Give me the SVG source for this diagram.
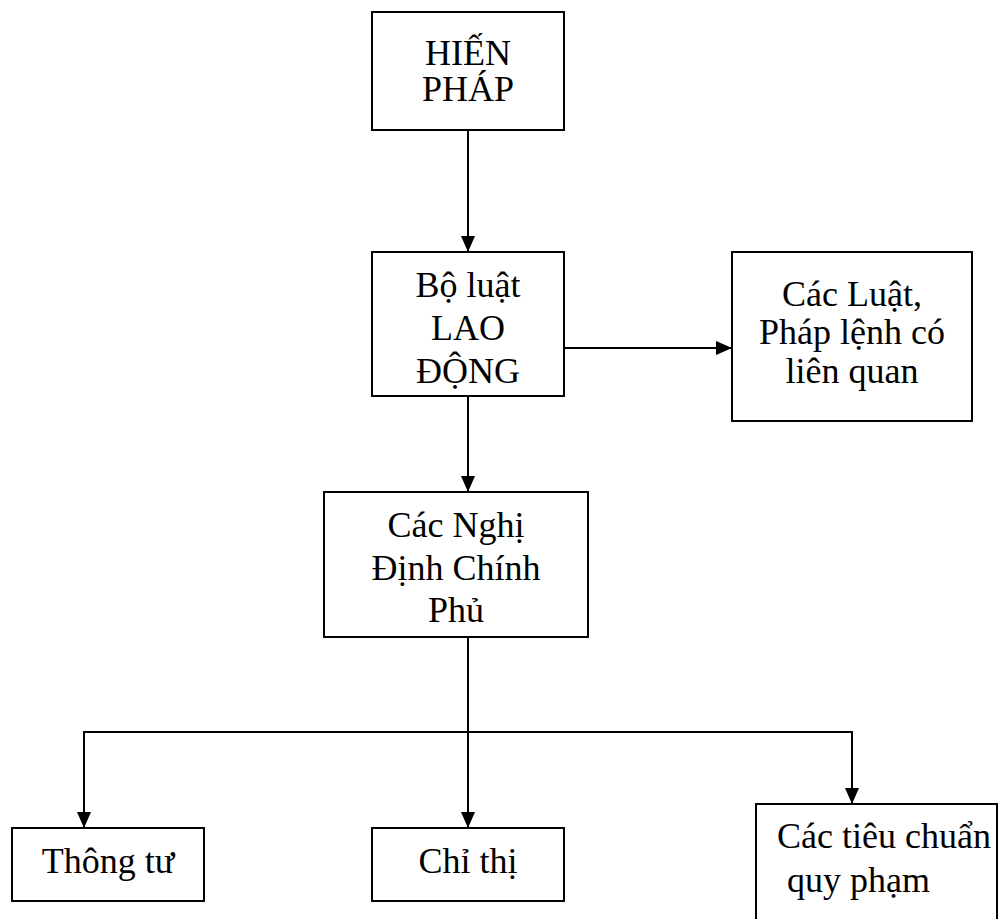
<svg xmlns="http://www.w3.org/2000/svg" width="998" height="919" viewBox="0 0 998 919">
<style>
.box{fill:#fff;stroke:#000;stroke-width:2}
.t{font-family:"Liberation Serif","Times New Roman",serif;font-size:36px;fill:#000;text-anchor:middle}
.tl{font-family:"Liberation Serif","Times New Roman",serif;font-size:36px;fill:#000}
.c{fill:none;stroke:#000;stroke-width:2}
</style>
<defs>
<marker id="ah" markerWidth="16" markerHeight="14" refX="16" refY="7" orient="auto" markerUnits="userSpaceOnUse">
<path d="M0,0 L16,7 L0,14 Z" fill="#000"/>
</marker>
</defs>
<rect width="998" height="919" fill="#fff"/>
<g id="connectors">
<line class="c" x1="468" y1="130" x2="468" y2="252" marker-end="url(#ah)"/>
<line class="c" x1="564" y1="348" x2="732" y2="348" marker-end="url(#ah)"/>
<line class="c" x1="468" y1="396" x2="468" y2="492" marker-end="url(#ah)"/>
<line class="c" x1="468" y1="637" x2="468" y2="828" marker-end="url(#ah)"/>
<polyline class="c" points="468,732 84,732 84,828" marker-end="url(#ah)"/>
<polyline class="c" points="468,732 852,732 852,804" marker-end="url(#ah)"/>
</g>
<g id="hien-phap">
<rect class="box" x="372" y="12" width="192" height="118"/>
<text class="t" x="468" y="65">HIẾN</text>
<text class="t" x="468" y="101">PHÁP</text>
</g>
<g id="bo-luat">
<rect class="box" x="372" y="252" width="192" height="144"/>
<text class="t" x="468" y="297">Bộ luật</text>
<text class="t" x="468" y="340">LAO</text>
<text class="t" x="468" y="383">ĐỘNG</text>
</g>
<g id="cac-luat">
<rect class="box" x="732" y="252" width="240" height="169"/>
<text class="t" x="852" y="306">Các Luật,</text>
<text class="t" x="852" y="344">Pháp lệnh có</text>
<text class="t" x="852" y="383">liên quan</text>
</g>
<g id="nghi-dinh">
<rect class="box" x="324" y="492" width="264" height="145"/>
<text class="t" x="456" y="537">Các Nghị</text>
<text class="t" x="456" y="580">Định Chính</text>
<text class="t" x="456" y="622">Phủ</text>
</g>
<g id="thong-tu">
<rect class="box" x="12" y="828" width="192" height="73"/>
<text class="t" x="108" y="873">Thông tư</text>
</g>
<g id="chi-thi">
<rect class="box" x="372" y="828" width="192" height="73"/>
<text class="t" x="468" y="873">Chỉ thị</text>
</g>
<g id="tieu-chuan">
<rect class="box" x="756" y="804" width="241" height="130"/>
<text class="tl" x="777" y="848">Các tiêu chuẩn</text>
<text class="tl" x="787" y="892">quy phạm</text>
</g>
</svg>
